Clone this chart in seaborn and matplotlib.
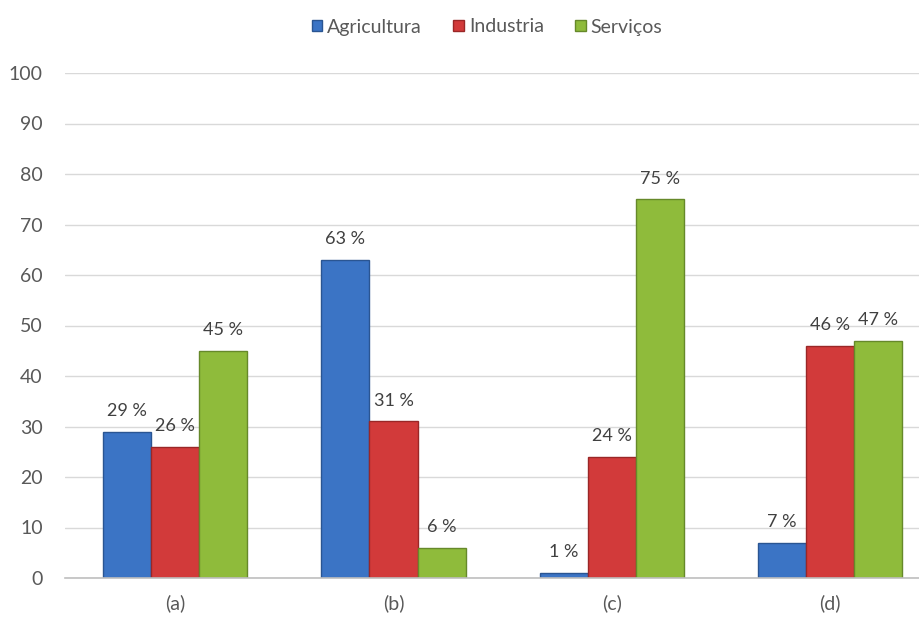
import matplotlib
matplotlib.use("Agg")
import matplotlib.pyplot as plt
from matplotlib.patches import Patch
import seaborn as sns
import pandas as pd

categories = ["(a)", "(b)", "(c)", "(d)"]
series_names = ["Agricultura", "Industria", "Serviços"]
agricultura = [29, 63, 1, 7]
industria = [26, 31, 24, 46]
servicos = [45, 6, 75, 47]
y_ticks = [0, 10, 20, 30, 40, 50, 60, 70, 80, 90, 100]

colors = ["#3b74c5", "#d23a3a", "#8fbb3b"]
edge_colors = ["#2a5592", "#9a2727", "#66892a"]

rows = []
for name, vals in zip(series_names, [agricultura, industria, servicos]):
    for cat, v in zip(categories, vals):
        rows.append({"cat": cat, "serie": name, "valor": v})
df = pd.DataFrame(rows)

sns.set_theme(style="white")
plt.rcParams["font.family"] = ["Lato", "DejaVu Sans"]

fig = plt.figure(figsize=(9.2, 6.19), dpi=100)
ax = fig.add_axes([65 / 920, 41 / 619, 1 - 65 / 920, (578 - 73) / 619])

sns.barplot(data=df, x="cat", y="valor", hue="serie", order=categories,
            hue_order=series_names, palette=colors, width=0.66,
            saturation=1, ax=ax, legend=False)

# darker outline per series and value labels above each bar
for container, ec in zip(ax.containers, edge_colors):
    for bar in container:
        bar.set_edgecolor(ec)
        bar.set_linewidth(1.0)
    ax.bar_label(container, labels=[f"{int(round(b.get_height()))} %" for b in container],
                 padding=9, fontsize=13, color="#404040")

ax.set_xlim(-0.505, 3.412)
ax.set_ylim(0, 100)
ax.set_yticks(y_ticks)
ax.yaxis.grid(True, color="#d9d9d9", linewidth=1)
ax.set_axisbelow(True)
for s in ["top", "right", "left"]:
    ax.spines[s].set_visible(False)
ax.spines["bottom"].set_color("#bfbfbf")
ax.spines["bottom"].set_linewidth(1.2)
ax.tick_params(axis="y", length=0, pad=16, labelsize=14, labelcolor="#595959")
ax.tick_params(axis="x", length=0, pad=12, labelsize=14, labelcolor="#595959")
ax.set_xlabel("")
ax.set_ylabel("")

handles = [Patch(facecolor=c, edgecolor=e, label=n)
           for c, e, n in zip(colors, edge_colors, series_names)]
fig.legend(handles=handles, loc="center", bbox_to_anchor=(487 / 920, 1 - 27 / 619),
           ncol=3, frameon=False, fontsize=14, handlelength=0.55, handleheight=0.55,
           handletextpad=0.25, columnspacing=1.6, labelcolor="#595959")

fig.savefig("out.png", dpi=100)
